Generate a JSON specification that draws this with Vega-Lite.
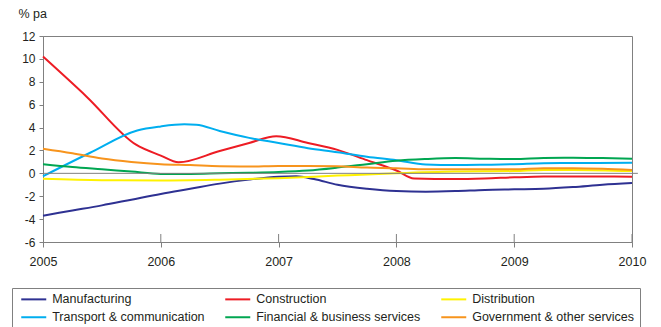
{
  "$schema": "https://vega.github.io/schema/vega-lite/v6.json",
  "width": 589,
  "height": 206,
  "autosize": {"type": "none"},
  "padding": {"left": 43, "top": 36, "right": 29, "bottom": 85},
  "background": "white",
  "config": {
    "font": "Liberation Sans",
    "view": {"stroke": "#808080", "strokeWidth": 1},
    "axis": {"domainColor": "#808080", "tickColor": "#808080", "grid": false, "labelFont": "Liberation Sans", "labelFontSize": 12.5, "labelColor": "#231f20", "labelOverlap": false, "labelFlush": false}
  },
  "layer": [
    {
      "data": {"values": [
        {"series": "Manufacturing", "year": 2005.0, "value": -3.7},
        {"series": "Manufacturing", "year": 2005.25, "value": -3.25},
        {"series": "Manufacturing", "year": 2005.5, "value": -2.8},
        {"series": "Manufacturing", "year": 2005.75, "value": -2.3},
        {"series": "Manufacturing", "year": 2006.0, "value": -1.8},
        {"series": "Manufacturing", "year": 2006.25, "value": -1.35},
        {"series": "Manufacturing", "year": 2006.5, "value": -0.9},
        {"series": "Manufacturing", "year": 2006.75, "value": -0.55},
        {"series": "Manufacturing", "year": 2007.0, "value": -0.3},
        {"series": "Manufacturing", "year": 2007.15, "value": -0.25},
        {"series": "Manufacturing", "year": 2007.3, "value": -0.5},
        {"series": "Manufacturing", "year": 2007.5, "value": -1.0},
        {"series": "Manufacturing", "year": 2007.75, "value": -1.35},
        {"series": "Manufacturing", "year": 2008.0, "value": -1.55},
        {"series": "Manufacturing", "year": 2008.25, "value": -1.6},
        {"series": "Manufacturing", "year": 2008.5, "value": -1.55},
        {"series": "Manufacturing", "year": 2008.75, "value": -1.45},
        {"series": "Manufacturing", "year": 2009.0, "value": -1.4},
        {"series": "Manufacturing", "year": 2009.25, "value": -1.35},
        {"series": "Manufacturing", "year": 2009.5, "value": -1.2},
        {"series": "Manufacturing", "year": 2009.75, "value": -1.0},
        {"series": "Manufacturing", "year": 2010.0, "value": -0.85},

        {"series": "Construction", "year": 2005.0, "value": 10.2},
        {"series": "Construction", "year": 2005.37, "value": 6.7},
        {"series": "Construction", "year": 2005.79, "value": 2.5},
        {"series": "Construction", "year": 2006.0, "value": 1.55},
        {"series": "Construction", "year": 2006.15, "value": 0.96},
        {"series": "Construction", "year": 2006.5, "value": 1.95},
        {"series": "Construction", "year": 2006.75, "value": 2.65},
        {"series": "Construction", "year": 2006.98, "value": 3.25},
        {"series": "Construction", "year": 2007.25, "value": 2.65},
        {"series": "Construction", "year": 2007.5, "value": 2.05},
        {"series": "Construction", "year": 2007.75, "value": 1.15},
        {"series": "Construction", "year": 2008.0, "value": 0.25},
        {"series": "Construction", "year": 2008.15, "value": -0.45},
        {"series": "Construction", "year": 2008.5, "value": -0.5},
        {"series": "Construction", "year": 2008.75, "value": -0.45},
        {"series": "Construction", "year": 2009.0, "value": -0.35},
        {"series": "Construction", "year": 2009.25, "value": -0.28},
        {"series": "Construction", "year": 2009.5, "value": -0.27},
        {"series": "Construction", "year": 2010.0, "value": -0.3},

        {"series": "Distribution", "year": 2005.0, "value": -0.48},
        {"series": "Distribution", "year": 2005.5, "value": -0.6},
        {"series": "Distribution", "year": 2006.0, "value": -0.62},
        {"series": "Distribution", "year": 2006.5, "value": -0.55},
        {"series": "Distribution", "year": 2007.0, "value": -0.42},
        {"series": "Distribution", "year": 2007.5, "value": -0.2},
        {"series": "Distribution", "year": 2008.0, "value": 0.0},
        {"series": "Distribution", "year": 2008.5, "value": 0.15},
        {"series": "Distribution", "year": 2009.0, "value": 0.2},
        {"series": "Distribution", "year": 2009.25, "value": 0.3},
        {"series": "Distribution", "year": 2009.5, "value": 0.3},
        {"series": "Distribution", "year": 2010.0, "value": 0.2},

        {"series": "Transport & communication", "year": 2005.0, "value": -0.25},
        {"series": "Transport & communication", "year": 2005.4, "value": 1.8},
        {"series": "Transport & communication", "year": 2005.8, "value": 3.75},
        {"series": "Transport & communication", "year": 2006.0, "value": 4.1},
        {"series": "Transport & communication", "year": 2006.2, "value": 4.28},
        {"series": "Transport & communication", "year": 2006.3, "value": 4.25},
        {"series": "Transport & communication", "year": 2006.5, "value": 3.7},
        {"series": "Transport & communication", "year": 2006.75, "value": 3.1},
        {"series": "Transport & communication", "year": 2007.0, "value": 2.65},
        {"series": "Transport & communication", "year": 2007.25, "value": 2.2},
        {"series": "Transport & communication", "year": 2007.5, "value": 1.85},
        {"series": "Transport & communication", "year": 2007.75, "value": 1.45},
        {"series": "Transport & communication", "year": 2008.0, "value": 1.15},
        {"series": "Transport & communication", "year": 2008.25, "value": 0.78},
        {"series": "Transport & communication", "year": 2008.5, "value": 0.72},
        {"series": "Transport & communication", "year": 2008.75, "value": 0.75},
        {"series": "Transport & communication", "year": 2009.0, "value": 0.8},
        {"series": "Transport & communication", "year": 2009.25, "value": 0.88},
        {"series": "Transport & communication", "year": 2009.5, "value": 0.9},
        {"series": "Transport & communication", "year": 2010.0, "value": 0.92},

        {"series": "Financial & business services", "year": 2005.0, "value": 0.8},
        {"series": "Financial & business services", "year": 2005.25, "value": 0.55},
        {"series": "Financial & business services", "year": 2005.5, "value": 0.35},
        {"series": "Financial & business services", "year": 2005.75, "value": 0.15},
        {"series": "Financial & business services", "year": 2006.0, "value": -0.05},
        {"series": "Financial & business services", "year": 2006.25, "value": -0.05},
        {"series": "Financial & business services", "year": 2006.5, "value": 0.0},
        {"series": "Financial & business services", "year": 2006.75, "value": 0.05},
        {"series": "Financial & business services", "year": 2007.0, "value": 0.12},
        {"series": "Financial & business services", "year": 2007.25, "value": 0.25},
        {"series": "Financial & business services", "year": 2007.5, "value": 0.5},
        {"series": "Financial & business services", "year": 2007.75, "value": 0.8},
        {"series": "Financial & business services", "year": 2008.0, "value": 1.1},
        {"series": "Financial & business services", "year": 2008.25, "value": 1.25},
        {"series": "Financial & business services", "year": 2008.5, "value": 1.33},
        {"series": "Financial & business services", "year": 2008.75, "value": 1.28},
        {"series": "Financial & business services", "year": 2009.0, "value": 1.25},
        {"series": "Financial & business services", "year": 2009.25, "value": 1.35},
        {"series": "Financial & business services", "year": 2009.5, "value": 1.37},
        {"series": "Financial & business services", "year": 2009.75, "value": 1.33},
        {"series": "Financial & business services", "year": 2010.0, "value": 1.28},

        {"series": "Government & other services", "year": 2005.0, "value": 2.15},
        {"series": "Government & other services", "year": 2005.25, "value": 1.75},
        {"series": "Government & other services", "year": 2005.5, "value": 1.3},
        {"series": "Government & other services", "year": 2005.75, "value": 1.0},
        {"series": "Government & other services", "year": 2006.0, "value": 0.8},
        {"series": "Government & other services", "year": 2006.25, "value": 0.72},
        {"series": "Government & other services", "year": 2006.5, "value": 0.62},
        {"series": "Government & other services", "year": 2006.75, "value": 0.6},
        {"series": "Government & other services", "year": 2007.0, "value": 0.65},
        {"series": "Government & other services", "year": 2007.25, "value": 0.65},
        {"series": "Government & other services", "year": 2007.5, "value": 0.62},
        {"series": "Government & other services", "year": 2007.75, "value": 0.5},
        {"series": "Government & other services", "year": 2008.0, "value": 0.45},
        {"series": "Government & other services", "year": 2008.25, "value": 0.35},
        {"series": "Government & other services", "year": 2008.5, "value": 0.35},
        {"series": "Government & other services", "year": 2008.75, "value": 0.35},
        {"series": "Government & other services", "year": 2009.0, "value": 0.35},
        {"series": "Government & other services", "year": 2009.25, "value": 0.45},
        {"series": "Government & other services", "year": 2009.5, "value": 0.45},
        {"series": "Government & other services", "year": 2009.75, "value": 0.4},
        {"series": "Government & other services", "year": 2010.0, "value": 0.3}
      ]},
      "mark": {"type": "line", "strokeWidth": 2, "interpolate": "monotone"},
      "encoding": {
        "x": {"field": "year", "type": "quantitative", "scale": {"domain": [2005, 2010], "nice": false, "zero": false},
              "axis": {"title": null, "values": [2005, 2006, 2007, 2008, 2009, 2010], "tickCount": 20, "tickSize": 5, "labelPadding": 8, "labelOverlap": false, "labelFlush": false, "labelExpr": "datum.value + ''"}},
        "y": {"field": "value", "type": "quantitative", "scale": {"domain": [-6, 12], "nice": false},
              "axis": {"title": "% pa", "titleAngle": 0, "titleX": -25, "titleY": -18.5, "titleAlign": "left", "titleBaseline": "alphabetic", "titleFontWeight": "normal", "titleFontSize": 12.5, "titleFont": "Liberation Sans", "titleColor": "#231f20",
                       "values": [-6, -4, -2, 0, 2, 4, 6, 8, 10, 12], "tickCount": 20, "tickSize": 4, "labelPadding": 4, "labelFontSize": 12, "labelOverlap": false, "labelExpr": "datum.value + ''"}},
        "color": {"field": "series", "type": "nominal",
                  "scale": {"domain": ["Manufacturing", "Construction", "Distribution", "Transport & communication", "Financial & business services", "Government & other services"],
                            "range": ["#2e3192", "#ed1c24", "#fff200", "#00aeef", "#00a651", "#f7941d"]},
                  "legend": {"title": null, "orient": "none", "legendX": -31, "legendY": 252, "columns": 3, "direction": "horizontal",
                             "symbolType": "M-0.4,0H4.6", "symbolSize": 100, "symbolStrokeWidth": 2,
                             "labelFontSize": 12.5, "labelFont": "Liberation Sans", "labelColor": "#231f20", "labelOffset": 22.7, "labelLimit": 400,
                             "strokeColor": "#808080", "fillColor": "white", "padding": 5, "columnPadding": 16, "rowPadding": 5}}
      }
    },
    {
      "data": {"values": [{"v": 0}]},
      "mark": {"type": "rule", "color": "#808080", "strokeWidth": 1},
      "encoding": {
        "y": {"field": "v", "type": "quantitative"},
        "x": {"datum": 2005, "type": "quantitative"},
        "x2": {"datum": 2010.05}
      }
    },
    {
      "data": {"values": [{"t": 2006}, {"t": 2007}, {"t": 2008}, {"t": 2009}, {"t": 2010}]},
      "mark": {"type": "rule", "color": "#808080", "strokeWidth": 1},
      "encoding": {
        "x": {"field": "t", "type": "quantitative"},
        "y": {"datum": -6},
        "y2": {"datum": -5.3}
      }
    }
  ]
}
